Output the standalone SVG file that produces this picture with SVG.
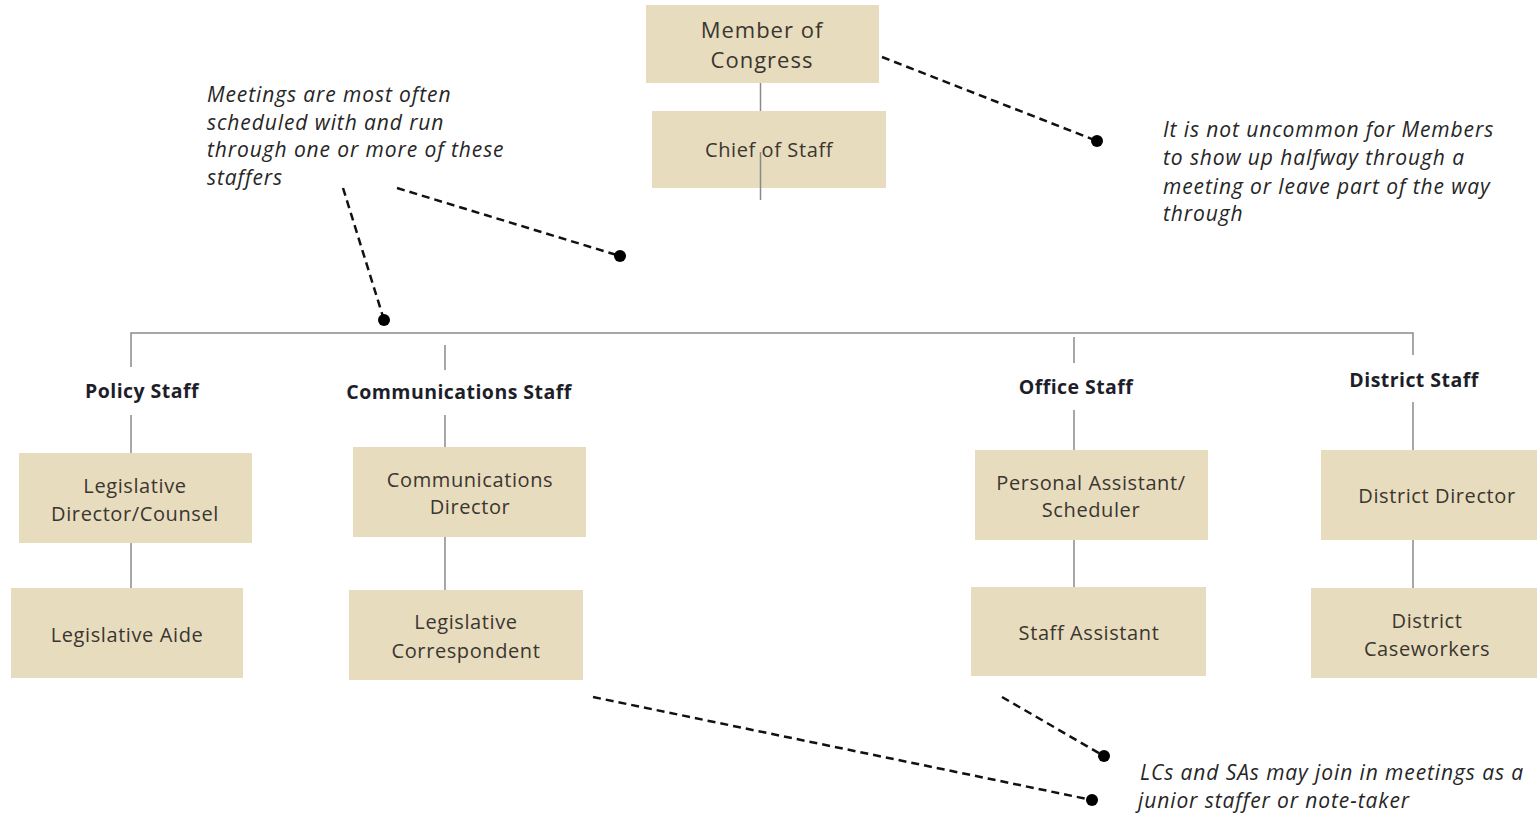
<svg xmlns="http://www.w3.org/2000/svg" width="1537" height="815" viewBox="0 0 1537 815">
<style>
.box{fill:#E8DCBE}
.t{font-family:"Open Sans","Liberation Sans",sans-serif;font-size:20px;fill:#3a3630;text-anchor:middle;letter-spacing:0.6px}
.big{font-size:22px;letter-spacing:1px}
.h{font-family:"Open Sans","Liberation Sans",sans-serif;font-size:19.5px;font-weight:bold;fill:#1e1e2a;text-anchor:middle;letter-spacing:0.45px}
.n{font-family:"Open Sans","Liberation Sans",sans-serif;font-size:21px;font-style:italic;fill:#262626;letter-spacing:0.9px}
.c{stroke:#8a8a8a;stroke-width:1.5;fill:none}
.d{stroke:#111;stroke-width:2.5;stroke-dasharray:8 5;fill:none}
.dot{fill:#000}
</style>
<rect width="1537" height="815" fill="#ffffff"/>
<g id="connectors">
<line class="c" x1="760.5" y1="83" x2="760.5" y2="111"/>
<line class="c" x1="760.5" y1="152" x2="760.5" y2="200"/>
<polyline class="c" points="131,367 131,333 1413,333 1413,355"/>
<line class="c" x1="445" y1="345" x2="445" y2="370"/>
<line class="c" x1="1074" y1="337" x2="1074" y2="363"/>
<line class="c" x1="131" y1="415" x2="131" y2="453"/>
<line class="c" x1="445" y1="415" x2="445" y2="447"/>
<line class="c" x1="1074" y1="410" x2="1074" y2="450"/>
<line class="c" x1="1413" y1="402" x2="1413" y2="450"/>
<line class="c" x1="131" y1="543" x2="131" y2="588"/>
<line class="c" x1="445" y1="537" x2="445" y2="590"/>
<line class="c" x1="1074" y1="540" x2="1074" y2="587"/>
<line class="c" x1="1413" y1="540" x2="1413" y2="588"/>
</g>
<g id="callouts">
<line class="d" x1="882" y1="57" x2="1097" y2="141"/><circle class="dot" cx="1097" cy="141" r="6"/>
<line class="d" x1="397" y1="188" x2="620" y2="256"/><circle class="dot" cx="620" cy="256" r="6"/>
<line class="d" x1="343" y1="188" x2="384" y2="320"/><circle class="dot" cx="384" cy="320" r="6"/>
<line class="d" x1="593" y1="697" x2="1092" y2="800"/><circle class="dot" cx="1092" cy="800" r="6"/>
<line class="d" x1="1002" y1="697" x2="1104" y2="756"/><circle class="dot" cx="1104" cy="756" r="6"/>
</g>
<g id="member">
<rect class="box" x="646" y="5" width="233" height="78"/>
<text class="t big" x="762" y="38">Member of</text>
<text class="t big" x="762" y="68">Congress</text>
</g>
<g id="chief">
<rect class="box" x="652" y="111" width="234" height="77"/>
<text class="t" x="769" y="157">Chief of Staff</text>
</g>
<line class="c" x1="760.5" y1="152" x2="760.5" y2="188"/>
<g id="policy-staff"><text class="h" x="142" y="398">Policy Staff</text></g>
<g id="comms-staff"><text class="h" x="459" y="399">Communications Staff</text></g>
<g id="office-staff"><text class="h" x="1076" y="394">Office Staff</text></g>
<g id="district-staff"><text class="h" x="1414" y="387">District Staff</text></g>
<g id="leg-director">
<rect class="box" x="19" y="453" width="233" height="90"/>
<text class="t" x="135" y="493">Legislative</text>
<text class="t" x="135" y="521">Director/Counsel</text>
</g>
<g id="leg-aide">
<rect class="box" x="11" y="588" width="232" height="90"/>
<text class="t" x="127" y="642">Legislative Aide</text>
</g>
<g id="comm-director">
<rect class="box" x="353" y="447" width="233" height="90"/>
<text class="t" x="470" y="487">Communications</text>
<text class="t" x="470" y="514">Director</text>
</g>
<g id="leg-correspondent">
<rect class="box" x="349" y="590" width="234" height="90"/>
<text class="t" x="466" y="629">Legislative</text>
<text class="t" x="466" y="658">Correspondent</text>
</g>
<g id="scheduler">
<rect class="box" x="975" y="450" width="233" height="90"/>
<text class="t" x="1091" y="490">Personal Assistant/</text>
<text class="t" x="1091" y="517">Scheduler</text>
</g>
<g id="staff-assistant">
<rect class="box" x="971" y="587" width="235" height="89"/>
<text class="t" x="1089" y="640">Staff Assistant</text>
</g>
<g id="district-director">
<rect class="box" x="1321" y="450" width="216" height="90"/>
<text class="t" x="1437" y="503">District Director</text>
</g>
<g id="caseworkers">
<rect class="box" x="1311" y="588" width="226" height="90"/>
<text class="t" x="1427" y="628">District</text>
<text class="t" x="1427" y="656">Caseworkers</text>
</g>
<g id="note-meetings">
<text class="n" x="207" y="102">Meetings are most often</text>
<text class="n" x="207" y="130">scheduled with and run</text>
<text class="n" x="207" y="157">through one or more of these</text>
<text class="n" x="207" y="185">staffers</text>
</g>
<g id="note-members">
<text class="n" x="1163" y="137">It is not uncommon for Members</text>
<text class="n" x="1163" y="165">to show up halfway through a</text>
<text class="n" x="1163" y="194">meeting or leave part of the way</text>
<text class="n" x="1163" y="221">through</text>
</g>
<g id="note-junior">
<text class="n" x="1140" y="780">LCs and SAs may join in meetings as a</text>
<text class="n" x="1138" y="808">junior staffer or note-taker</text>
</g>
</svg>
